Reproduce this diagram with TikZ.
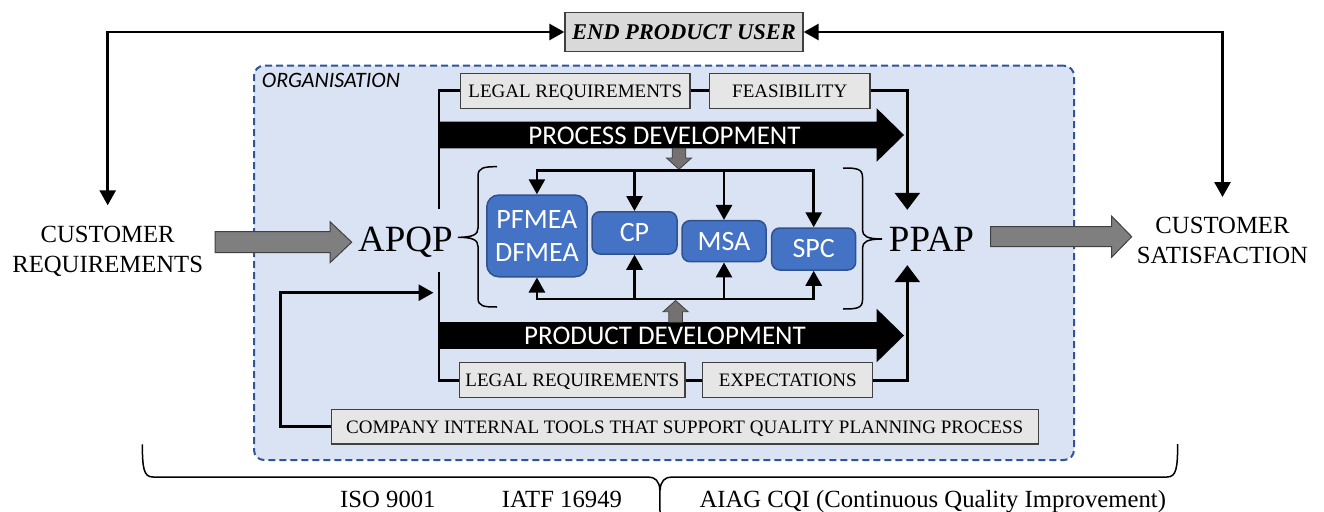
\documentclass[tikz,border=0pt]{standalone}
\usepackage{fontspec}
\setmainfont{Liberation Serif}
\newfontfamily\calib{Carlito}
\usetikzlibrary{arrows.meta}
\definecolor{orgfill}{HTML}{DAE3F3}
\definecolor{orgline}{HTML}{2F5597}
\definecolor{boxfill}{HTML}{E7E6E6}
\definecolor{eufill}{HTML}{D9D9D9}
\definecolor{boxline}{HTML}{404040}
\definecolor{bluefill}{HTML}{4472C4}
\definecolor{blueline}{HTML}{2F528F}
\definecolor{blockgray}{HTML}{7F7F7F}
\definecolor{smallgray}{HTML}{767171}
\begin{document}
\begin{tikzpicture}[x=1pt,y=-1pt,
 conn/.style={line width=2.8pt},
 tipa/.style={-{Triangle[length=15pt,width=16pt]}},
 tipb/.style={{Triangle[length=15pt,width=16pt]}-{Triangle[length=15pt,width=16pt]}},
 bigtip/.style={-{Triangle[length=17pt,width=25pt]}},
 graybox/.style={draw=boxline,fill=boxfill,line width=1.4pt,inner sep=0pt,minimum height=35pt,text height=12.6pt,text depth=0pt,font=\fontsize{19}{22}\selectfont},
 bluebox/.style={draw=blueline,fill=bluefill,line width=1.5pt,rounded corners=8pt,inner sep=0pt,text=white,align=center,font=\calib\fontsize{28}{32.7}\selectfont},
 orgbox/.style={draw=orgline,fill=orgfill,line width=2pt,dash pattern=on 7pt off 4pt,rounded corners=10pt},
 blockarrow/.style={fill=blockgray,draw=boxline,line width=1pt},
 smallarrow/.style={fill=smallgray,draw=boxline,line width=0.8pt},
 bigtext/.style={font=\fontsize{24.7}{30}\selectfont,align=center,inner sep=0pt},
 bigacr/.style={font=\fontsize{37}{44}\selectfont,inner sep=0pt,text height=24.4pt,text depth=0pt,anchor=base},
 devtext/.style={text=white,font=\calib\fontsize{27}{30}\selectfont,inner sep=0pt,anchor=base},
 bracestyle/.style={line width=1.5pt},
 stdtext/.style={anchor=base west,font=\fontsize{24.7}{28}\selectfont,inner sep=0pt},
]
\useasboundingbox (0,0) rectangle (1324,511);

% organisation background
\node[orgbox,minimum width=820pt,minimum height=394.3pt] (org) at (664,262.85) {};
\node[anchor=base west,font=\calib\itshape\fontsize{22}{26}\selectfont,inner sep=0pt] (orglabel) at (261.7,87.7) {ORGANISATION};

% helper coordinates
\coordinate (topbus) at (0,170.7);
\coordinate (botbus) at (0,299);
\coordinate (spine) at (439,0);
\coordinate (rspine) at (907.3,0);
\coordinate (fbc) at (280.7,292.7);

% end product user
\node[draw=boxline,fill=eufill,line width=1.4pt,minimum width=238pt,minimum height=39.4pt,inner sep=0pt,text height=15pt,text depth=0pt,font=\bfseries\itshape\fontsize{22.5}{26}\selectfont] (eu) at (684,32) {END PRODUCT USER};

% customer texts
\node[bigtext,anchor=north] (cr) at (107.7,225.8) {CUSTOMER\\REQUIREMENTS};
\node[bigtext,anchor=north] (cs) at (1222.5,216.5) {CUSTOMER\\SATISFACTION};

% APQP / PPAP
\node[bigacr] (apqp) at (405.5,251.7) {APQP};
\node[bigacr] (ppap) at (931.5,251.7) {PPAP};

% gray boxes
\node[graybox,minimum width=229.3pt] (legal1) at (575.3,90.8) {LEGAL REQUIREMENTS};
\node[graybox,minimum width=160.7pt] (feas) at (789.7,90.8) {FEASIBILITY};
\node[graybox,minimum width=225.5pt] (legal2) at (572.3,380.2) {LEGAL REQUIREMENTS};
\node[graybox,minimum width=170pt] (expect) at (787.7,380.2) {EXPECTATIONS};
\node[graybox,minimum width=707pt,minimum height=34.7pt] (company) at (684.7,426.7) {COMPANY INTERNAL TOOLS THAT SUPPORT QUALITY PLANNING PROCESS};

% blue boxes
\node[bluebox,rounded corners=12pt,minimum width=100.3pt,minimum height=81.7pt] (pf) at (536.9,235.9) {PFMEA\\DFMEA};
\node[bluebox,minimum width=85pt,minimum height=42.3pt] (cp) at (634.5,232.9) {CP};
\node[bluebox,minimum width=84pt,minimum height=41pt] (msa) at (724,241.2) {MSA};
\node[bluebox,minimum width=84pt,minimum height=42pt] (spc) at (813.7,249) {SPC};

% development arrows
\fill (439,121.7) -- (876.7,121.7) -- (876.7,108.3) -- (904,135) -- (876.7,161.7) -- (876.7,148.3) -- (439,148.3) -- cycle;
\fill (439,322.2) -- (876.7,322.2) -- (876.7,308.8) -- (904,335.5) -- (876.7,362.2) -- (876.7,348.8) -- (439,348.8) -- cycle;
\node[devtext] (pdev) at (664.5,144.2) {PROCESS DEVELOPMENT};
\node[devtext] (prdev) at (665,344.5) {PRODUCT DEVELOPMENT};

% small gray arrows
\draw[smallarrow] (672.2,148.3) -- (685.8,148.3) -- (685.8,158) -- (691.5,158) -- (679,169.3) -- (666.5,158) -- (672.2,158) -- cycle;
\draw[smallarrow] (668.8,322.2) -- (682.4,322.2) -- (682.4,311.7) -- (688.1,311.7) -- (675.6,300.5) -- (663.1,311.7) -- (668.8,311.7) -- cycle;

% big gray block arrows
\draw[blockarrow] (215,231.7) -- (330,231.7) -- (330,221.7) -- (351.7,242.2) -- (330,262.7) -- (330,252.7) -- (215,252.7) -- cycle;
\draw[blockarrow] (990.7,226.7) -- (1111.7,226.7) -- (1111.7,216.2) -- (1131.7,236.7) -- (1111.7,257.2) -- (1111.7,246.7) -- (990.7,246.7) -- cycle;

% top feedback
\draw[conn,tipb,shorten <=20.5pt] (cr.north) |- (eu.west);
\draw[conn,tipb,shorten <=19.5pt] (cs.north) |- (eu.east);

% spine and side connectors
\draw[conn,shorten >=17.9pt] (legal1.west) -| (apqp.north -| spine);
\draw[conn,shorten <=20pt] (apqp.south -| spine) |- (legal2.west);
\draw[conn] (legal1.east) -- (feas.west);
\draw[conn] (legal2.east) -- (expect.west);
\draw[conn,bigtip,shorten >=17.3pt] (feas.east) -| (ppap.north -| rspine);
\draw[conn,bigtip,shorten >=13.3pt] (expect.east) -| (ppap.south -| rspine);
\draw[conn,tipa,shorten >=5.5pt] (company.west) -| (fbc) -- (fbc -| spine);

% buses to tools
\draw[conn,tipb] (pf.north) |- (spc.north |- topbus) -- (spc.north);
\draw[conn,tipa] (cp.north |- topbus) -- (cp.north);
\draw[conn,tipa] (msa.north |- topbus) -- (msa.north);
\draw[conn,tipb] (pf.south) |- (spc.south |- botbus) -- (spc.south);
\draw[conn,tipa] (cp.south |- botbus) -- (cp.south);
\draw[conn,tipa] (msa.south |- botbus) -- (msa.south);

% braces around tools
\draw[bracestyle] (497,166.7) .. controls (484,166.7) and (478,167.5) .. (478,176) -- (478,228) .. controls (478,234.5) and (473,237.3) .. (458,237.3) .. controls (473,237.3) and (478,240) .. (478,246.5) -- (478,298) .. controls (478,306.5) and (484,307) .. (497,307);
\draw[bracestyle] (843,168) .. controls (856,168) and (862.5,168.5) .. (862.5,177) -- (862.5,230) .. controls (862.5,236) and (867,239) .. (882,239) .. controls (867,239) and (862.5,242) .. (862.5,248) -- (862.5,300) .. controls (862.5,308.5) and (856,309) .. (843,309);

% bottom brace
\draw[bracestyle] (142.3,444.3) .. controls (142.5,468) and (143.5,477) .. (153,477) -- (648,477) .. controls (655,477) and (659.6,481) .. (659.8,490) -- (660,512);
\draw[bracestyle] (1177.7,444) .. controls (1177.5,468) and (1176.5,477) .. (1167,477) -- (672,477) .. controls (665,477) and (660.4,481) .. (660.2,490);

% standards
\node[stdtext] (iso) at (340,507.5) {ISO 9001};
\node[stdtext] (iatf) at (501.7,507.5) {IATF 16949};
\node[stdtext] (aiag) at (699.3,507.5) {AIAG CQI (Continuous Quality Improvement)};
\end{tikzpicture}
\end{document}
